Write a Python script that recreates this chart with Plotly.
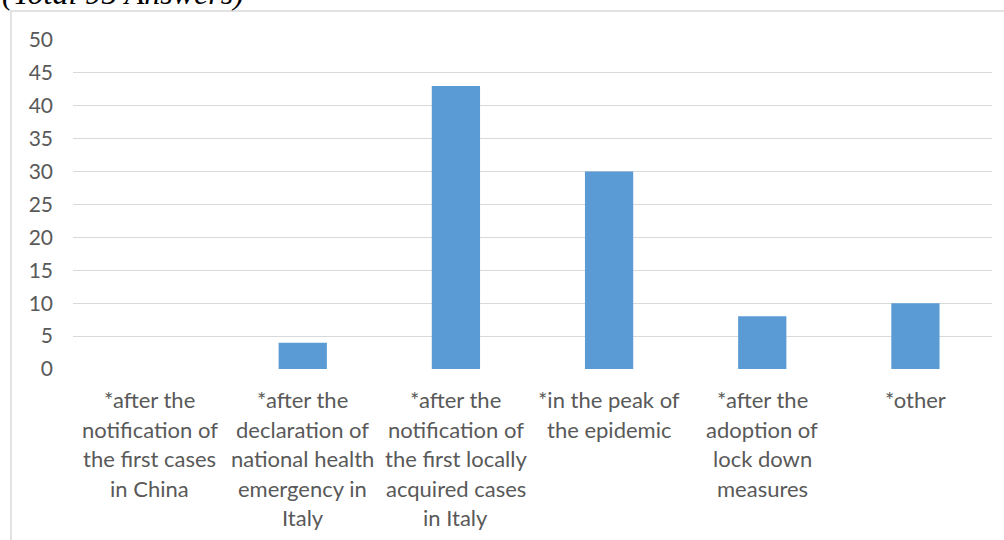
import plotly.graph_objects as go

# Survey answers: when respondents changed their behaviour (95 answers in total)
category_lines = [
    ["*after the", "notification of", "the first cases", "in China"],
    ["*after the", "declaration of", "national health", "emergency in", "Italy"],
    ["*after the", "notification of", "the first locally", "acquired cases", "in Italy"],
    ["*in the peak of", "the epidemic"],
    ["*after the", "adoption of", "lock down", "measures"],
    ["*other"],
]
categories = [" ".join(lines) for lines in category_lines]
answers = [0, 4, 43, 30, 8, 10]
y_ticks = [0, 5, 10, 15, 20, 25, 30, 35, 40, 45, 50]

W, H = 1004, 540
M_L, M_R, M_T, M_B = 73, 12, 40, 171
plot_w = W - M_L - M_R
plot_h = H - M_T - M_B

text_color = "#595959"
font_family = "Lato, 'Open Sans', sans-serif"


def px_x(x):
    return (x - M_L) / plot_w


def px_y(y):
    return (H - M_B - y) / plot_h


fig = go.Figure(
    go.Bar(
        x=categories,
        y=answers,
        marker=dict(color="#5b9bd5", line=dict(width=0)),
        hoverinfo="x+y",
    )
)

# multi-line category labels, one annotation per line for wider line spacing
annotations = []
line_step = 29.6
first_line_center = 399.5
for cat, lines in zip(categories, category_lines):
    for i, line in enumerate(lines):
        annotations.append(
            dict(
                x=cat,
                xref="x",
                y=px_y(first_line_center + i * line_step),
                yref="paper",
                text=line,
                showarrow=False,
                xanchor="center",
                yanchor="middle",
                font=dict(family=font_family, size=22, color=text_color),
            )
        )

# heading above the chart frame
annotations.append(
    dict(
        x=px_x(0),
        xref="paper",
        y=px_y(13),
        yref="paper",
        text="<i>(Total 95 Answers)</i>",
        showarrow=False,
        xanchor="left",
        yanchor="bottom",
        font=dict(family="'Liberation Serif', serif", size=32, color="#000000"),
    )
)

fig.update_layout(
    width=W,
    height=H,
    margin=dict(l=M_L, r=M_R, t=M_T, b=M_B),
    paper_bgcolor="white",
    plot_bgcolor="white",
    bargap=0.685,
    showlegend=False,
    font=dict(family=font_family, size=21, color=text_color),
    xaxis=dict(
        showticklabels=False,
        showgrid=False,
        zeroline=False,
        showline=False,
        ticks="",
    ),
    yaxis=dict(
        range=[0, 50],
        tickvals=y_ticks,
        showgrid=True,
        gridcolor="#d9d9d9",
        gridwidth=1,
        zeroline=False,
        showline=False,
        ticks="",
        ticklabelstandoff=19,
        tickfont=dict(family=font_family, size=21, color=text_color),
    ),
    annotations=annotations,
    shapes=[
        dict(
            type="rect",
            xref="paper",
            yref="paper",
            x0=px_x(11),
            x1=px_x(W + 20),
            y0=px_y(H + 20),
            y1=px_y(11),
            line=dict(color="#d9d9d9", width=1.5),
            fillcolor="rgba(0,0,0,0)",
            layer="below",
        )
    ],
)

fig.write_html("out.html")
